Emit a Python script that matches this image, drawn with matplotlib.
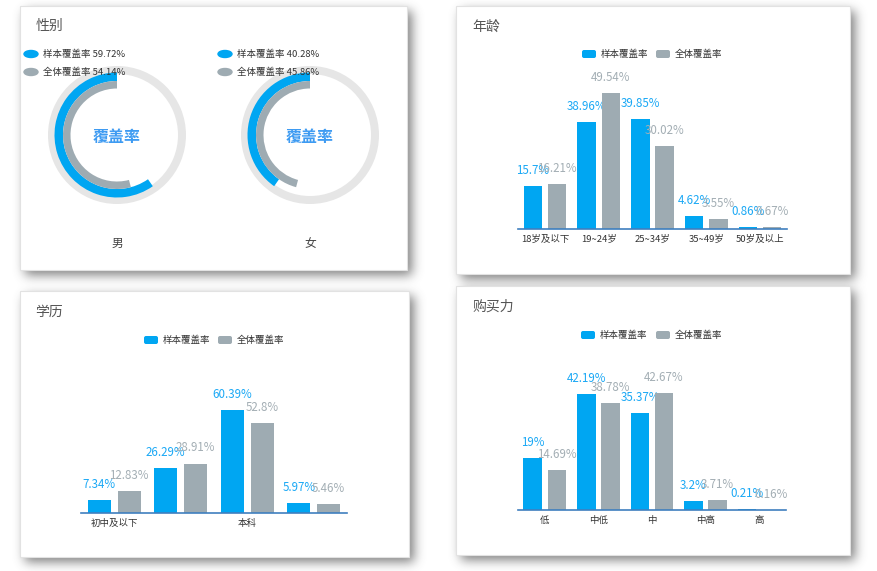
import numpy as np
import matplotlib
matplotlib.use("Agg")
import matplotlib.pyplot as plt
from matplotlib.patches import Rectangle, Wedge, Ellipse, FancyBboxPatch

plt.rcParams['font.family'] = ['Noto Sans CJK SC', 'DejaVu Sans']

# ---------------- data ----------------
series_names = ["样本覆盖率", "全体覆盖率"]

gender_labels = ["男", "女"]
gender_sample = [59.72, 40.28]
gender_total = [54.14, 45.86]

age_cats = ["18岁及以下", "19~24岁", "25~34岁", "35~49岁", "50岁及以上"]
age_sample = [15.7, 38.96, 39.85, 4.62, 0.86]
age_total = [16.21, 49.54, 30.02, 3.55, 0.67]

edu_ticks = ["初中及以下", "", "本科", ""]
edu_sample = [7.34, 26.29, 60.39, 5.97]
edu_total = [12.83, 28.91, 52.8, 5.46]

buy_cats = ["低", "中低", "中", "中高", "高"]
buy_sample = [19, 42.19, 35.37, 3.2, 0.21]
buy_total = [14.69, 38.78, 42.67, 3.71, 0.16]

titles = ["性别", "年龄", "学历", "购买力"]

# ---------------- style ----------------
BLUE = "#00a6f2"
GREY = "#9eabb2"
BLUE_TXT = "#1aa8f5"
GREY_TXT = "#a3aeb4"
RING = "#e6e6e6"
AXIS = "#3f7fbf"
CENTER_TXT = "#3e9bf2"

W, H = 877, 571
fig = plt.figure(figsize=(W / 100, H / 100), dpi=100)


def fx(x):
    return x / W


def fy(y):
    return 1 - y / H


# background axes in pixel coords
bg = fig.add_axes([0, 0, 1, 1], zorder=-10)
bg.set_xlim(0, W)
bg.set_ylim(H, 0)
bg.axis("off")

panels = [(20, 6, 407, 270), (456, 6, 850, 274), (20, 291, 409, 557), (456, 286, 850, 555)]

# soft drop shadow
mask = np.zeros((H, W))
dx, dy = 5, 5
for (x0, y0, x1, y1) in panels:
    mask[y0 + dy:y1 + dy, x0 + dx:x1 + dx] = 1.0
sigma = 5.5
r = 16
k = np.exp(-0.5 * (np.arange(-r, r + 1) / sigma) ** 2)
k /= k.sum()
p = np.pad(mask, ((0, 0), (r, r)))
tmp = sum(k[i] * p[:, i:i + W] for i in range(2 * r + 1))
p = np.pad(tmp, ((r, r), (0, 0)))
blur = sum(k[i] * p[i:i + H, :] for i in range(2 * r + 1))
img = np.zeros((H, W, 4))
img[..., :3] = 0.26
img[..., 3] = 0.68 * blur
bg.imshow(img, extent=(0, W, H, 0), interpolation="bilinear", zorder=0)

for (x0, y0, x1, y1) in panels:
    bg.add_patch(Rectangle((x0, y0), x1 - x0, y1 - y0, fc="white", ec="#e2e2e2", lw=0.8, zorder=2))

# titles
title_pos = [(36, 26), (472, 27), (35, 312), (472, 307)]
for t, (x, y) in zip(titles, title_pos):
    fig.text(fx(x), fy(y), t, fontsize=10, color="#555555", ha="left", va="center")


# ---------------- gender donuts ----------------
def donut(cx, cy, label, sample, total, leg_x):
    s = 150
    ax = fig.add_axes([fx(cx - s / 2), fy(cy + s / 2), s / W, s / H])
    ax.set_xlim(-s / 2, s / 2)
    ax.set_ylim(-s / 2, s / 2)
    ax.axis("off")
    ax.add_patch(Wedge((0, 0), 69, 0, 360, width=8, color=RING, lw=0))
    ax.add_patch(Wedge((0, 0), 62.5, 90, 90 + 3.6 * sample, width=8.5, color=BLUE, lw=0))
    ax.add_patch(Wedge((0, 0), 54, 90, 90 + 3.6 * total, width=7.5, color=GREY, lw=0))
    fig.text(fx(cx), fy(cy + 2), "覆盖率", fontsize=11.5, fontweight="bold",
             color=CENTER_TXT, ha="center", va="center")
    fig.text(fx(cx), fy(243), label, fontsize=8.5, color="#444444", ha="center", va="center")
    # legend
    for j, (col, name, v) in enumerate([(BLUE, series_names[0], sample),
                                        (GREY, series_names[1], total)]):
        yy = 54 + 18 * j
        bg.add_patch(Ellipse((leg_x, yy), 14, 7, color=col, zorder=3))
        fig.text(fx(leg_x + 12), fy(yy), f"{name} {v:g}%", fontsize=6.8,
                 color="#333333", ha="left", va="center", zorder=5)


donut(117, 135, gender_labels[0], gender_sample[0], gender_total[0], 31)
donut(310, 135, gender_labels[1], gender_sample[1], gender_total[1], 225)


# ---------------- bar panels ----------------
def legend(x_blue, x_grey, yc):
    for xb, col, name in [(x_blue, BLUE, series_names[0]), (x_grey, GREY, series_names[1])]:
        bg.add_patch(FancyBboxPatch((xb, yc - 4), 14, 8, boxstyle="round,pad=0,rounding_size=2",
                                    fc=col, ec="none", zorder=3))
        fig.text(fx(xb + 19), fy(yc), name, fontsize=6.8, color="#333333", ha="left", va="center")


def bar_panel(left, right, base, ppu, ymax, ticks, a, b):
    h = ymax * ppu
    ax = fig.add_axes([fx(left), fy(base), (right - left) / W, h / H])
    ax.patch.set_alpha(0)
    n = len(ticks)
    x = np.arange(n)
    ax.bar(x - 0.225, a, 0.345, color=BLUE, zorder=2)
    for xi, v in zip(x, a):
        ax.annotate(f"{v:g}%", (xi - 0.225, v), xytext=(0, 6.5), textcoords="offset points",
                    ha="center", va="bottom", fontsize=8.3, color=BLUE_TXT, zorder=3)
    ax.bar(x + 0.225, b, 0.345, color=GREY, zorder=4)
    for xi, v in zip(x, b):
        ax.annotate(f"{v:g}%", (xi + 0.225, v), xytext=(0, 6.5), textcoords="offset points",
                    ha="center", va="bottom", fontsize=8.3, color=GREY_TXT, zorder=5)
    ax.set_xlim(-0.5, n - 0.5)
    ax.set_ylim(0, ymax)
    for sp in ["top", "right", "left"]:
        ax.spines[sp].set_visible(False)
    ax.spines["bottom"].set_color(AXIS)
    ax.spines["bottom"].set_linewidth(1.2)
    ax.spines["bottom"].set_zorder(6)
    ax.set_yticks([])
    ax.set_xticks(x)
    ax.set_xticklabels(ticks, fontsize=6.8, color="#333333")
    ax.tick_params(axis="x", length=0, pad=4.5)
    return ax


legend(582, 656, 54)
bar_panel(518, 787, 229, 2.75, 60, age_cats, age_sample, age_total)

legend(144, 218, 340)
bar_panel(81, 347, 513, 1.712, 70, edu_ticks, edu_sample, edu_total)

legend(581, 656, 335)
bar_panel(518, 786, 510, 2.75, 60, buy_cats, buy_sample, buy_total)

fig.savefig("out.png", dpi=100, facecolor="white")
